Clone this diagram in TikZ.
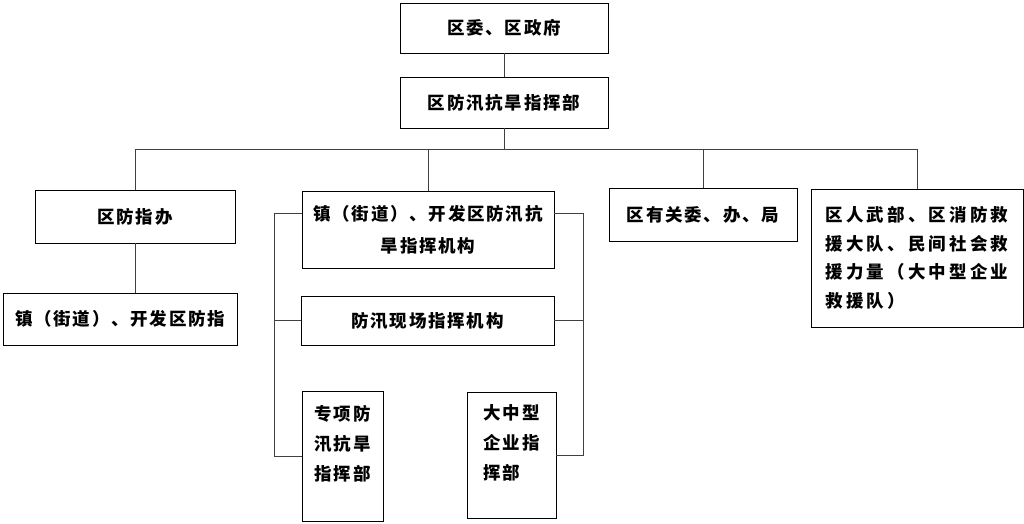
\documentclass[tikz,border=0pt]{standalone}
\usepackage{fontspec}
\newfontfamily\cjk[LetterSpace=10]{Noto Sans CJK SC}
\newfontfamily\cjkwide[LetterSpace=18]{Noto Sans CJK SC}
\tikzstyle{unit}=[draw,line width=0.8pt,inner sep=0pt,font=\cjk\bfseries\fontsize{17.5}{30}\selectfont]
\tikzstyle{edge}=[draw,line width=0.8pt,black!75,-]

\begin{document}
\begin{tikzpicture}[x=1pt,y=-1pt]
    \useasboundingbox (0,0) rectangle (1024,524);
    % First the district units
    \node[unit,minimum width=208,minimum height=50] (gov) at (504,28) {区委、区政府};
    \node[unit,minimum width=208,minimum height=51] (hq) at (504,102.5) {区防汛抗旱指挥部};
    \node[unit,minimum width=200,minimum height=53] (office) at (135,216.5) {区防指办};
    \node[unit,minimum width=188,minimum height=53] (rel) at (703,214.5) {区有关委、办、局};
    \node[unit,minimum width=212,minimum height=138,align=left,
          font=\cjkwide\bfseries\fontsize{17.5}{28.5}\selectfont] (rescue) at (917,258)
        {区人武部、区消防救\\援大队、民间社会救\\援力量（大中型企业\\救援队）};
    \node[unit,minimum width=234,minimum height=52] (towndesk) at (120,319) {镇（街道）、开发区防指};
    % Town level units
    \node[unit,minimum width=252,minimum height=77,align=center,
          font=\cjk\bfseries\fontsize{17.5}{32}\selectfont] (town) at (428,229.5)
        {镇（街道）、开发区防汛抗\\旱指挥机构};
    \node[unit,minimum width=253,minimum height=49] (site) at (427.5,320.5) {防汛现场指挥机构};
    \node[unit,minimum width=81,minimum height=130,align=left,text depth=26pt] (special) at (342.5,456)
        {专项防\\汛抗旱\\指挥部};
    \node[unit,minimum width=89,minimum height=126,align=left,text depth=26pt] (big) at (511.5,455)
        {大中型\\企业指\\挥部};
    % Connect the units
    \coordinate (bus) at (504,149);
    \path[edge] (gov) -- (hq);
    \path[edge] (hq) -- (bus);
    \path[edge] (office.north) |- (rescue.north |- bus) -- (rescue.north);
    \foreach \name in {town,rel}
        \path[edge] (\name.north) -- (\name.north |- bus);
    \path[edge] (office.south) -- (office.south |- towndesk.north);
    % Brackets round the town units
    \coordinate (tl) at (274,213);
    \coordinate (tr) at (583,213);
    \path[edge] (tl -| town.west) -- (tl) |- (special.west);
    \path[edge] (site.west) -- (site.west -| tl);
    \path[edge] (tr -| town.east) -- (tr) |- (big.east);
    \path[edge] (site.east) -- (site.east -| tr);
\end{tikzpicture}
\end{document}
